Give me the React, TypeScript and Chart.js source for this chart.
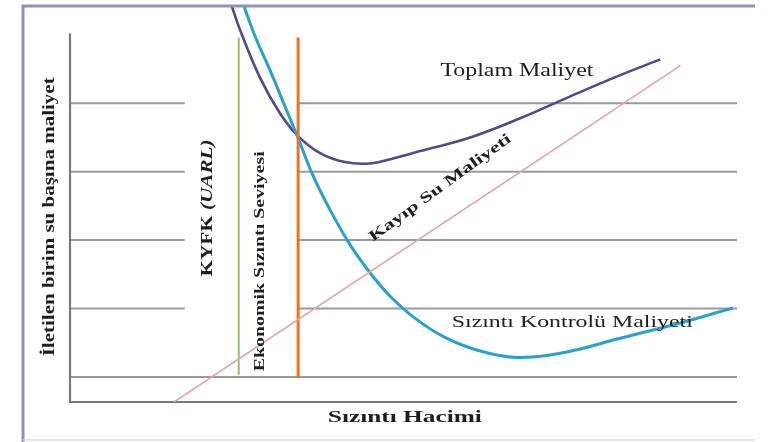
import React, { useEffect, useRef } from "react";
import { Chart, registerables } from "chart.js";

Chart.register(...registerables);

// ---- data (x: sızıntı hacmi, y: maliyet; arbitrary units) ----
const totalCostX = [2.37, 2.55, 2.85, 3.15, 3.42, 3.75, 4.12, 4.5, 4.87, 5.25, 6.0, 6.75, 7.5, 8.25, 8.85];
const totalCostY = [6.58, 6.07, 5.37, 4.85, 4.52, 4.27, 4.14, 4.12, 4.2, 4.3, 4.5, 4.78, 5.1, 5.41, 5.64];

const controlCostX = [2.55, 2.77, 3.0, 3.22, 3.42, 3.64, 3.9, 4.2, 4.5, 4.8, 5.17, 5.62, 6.15, 6.64, 7.12, 7.65, 8.14, 9.15, 9.94];
const controlCostY = [6.58, 5.99, 5.48, 4.96, 4.49, 3.95, 3.44, 2.93, 2.52, 2.18, 1.86, 1.58, 1.38, 1.29, 1.31, 1.41, 1.54, 1.79, 2.01];

const lostWaterX = [1.56, 9.15];
const lostWaterY = [0.635, 5.55];

const uarlX = [2.53, 2.53];
const uarlY = [5.96, 1.03];

const economicX = [3.42, 3.42];
const economicY = [5.96, 0.985];

const gridValues = [1, 2, 3, 4, 5];
const gridGapFrom = 1.72; // gridlines 2..5 are hidden between this x and the economic level line
const axisTop = 6.02;
const xMin = 0;
const xMax = 10;
const yMin = 0.635;
const yMax = 6.42;

const labelTotal = "Toplam Maliyet";
const labelLost = "Kayıp Su Maliyeti";
const labelControl = "Sızıntı Kontrolü Maliyeti";
const labelUarlA = "KYFK ";
const labelUarlB = "(UARL)";
const labelEconomic = "Ekonomik Sızıntı Seviyesi";
const titleY = "İletilen birim su başına maliyet";
const titleX = "Sızıntı Hacimi";

const SERIF = '"Liberation Serif", "DejaVu Serif", serif';

const pts = (xs: number[], ys: number[]) => xs.map((x, i) => ({ x, y: ys[i] }));

type Part = { text: string; font: string };

function drawLabel(
  ctx: CanvasRenderingContext2D,
  parts: Part[],
  cx: number,
  cy: number,
  width: number,
  rot: number,
  color: string
) {
  ctx.save();
  ctx.translate(cx, cy);
  ctx.rotate(rot);
  let total = 0;
  parts.forEach((p) => {
    ctx.font = p.font;
    total += ctx.measureText(p.text).width;
  });
  ctx.scale(width / total, 1);
  ctx.textAlign = "left";
  ctx.textBaseline = "middle";
  ctx.fillStyle = color;
  let x = -total / 2;
  parts.forEach((p) => {
    ctx.font = p.font;
    ctx.fillText(p.text, x, 0);
    x += ctx.measureText(p.text).width;
  });
  ctx.restore();
}

const decorPlugin = {
  id: "decor",
  beforeDatasetsDraw(chart: any) {
    const ctx: CanvasRenderingContext2D = chart.ctx;
    const xs = chart.scales.x;
    const ys = chart.scales.y;
    const X = (v: number) => xs.getPixelForValue(v);
    const Y = (v: number) => ys.getPixelForValue(v);
    ctx.save();
    // gridlines
    ctx.strokeStyle = "#9a9a9a";
    ctx.lineWidth = 2;
    gridValues.forEach((v, i) => {
      const y = Y(v);
      ctx.beginPath();
      if (i === 0) {
        ctx.moveTo(X(xMin), y);
        ctx.lineTo(X(xMax), y);
      } else {
        ctx.moveTo(X(xMin), y);
        ctx.lineTo(X(gridGapFrom), y);
        ctx.moveTo(X(economicX[0]), y);
        ctx.lineTo(X(xMax), y);
      }
      ctx.stroke();
    });
    // axes
    ctx.strokeStyle = "#7a7a7a";
    ctx.lineWidth = 2.2;
    ctx.beginPath();
    ctx.moveTo(X(xMin), Y(axisTop));
    ctx.lineTo(X(xMin), Y(yMin));
    ctx.lineTo(X(xMax), Y(yMin));
    ctx.stroke();
    ctx.restore();
  },
  afterDraw(chart: any) {
    const ctx: CanvasRenderingContext2D = chart.ctx;
    const xs = chart.scales.x;
    const ys = chart.scales.y;
    const X = (v: number) => xs.getPixelForValue(v);
    const Y = (v: number) => ys.getPixelForValue(v);
    const ink = "#1e1e1e";

    drawLabel(ctx, [{ text: labelTotal, font: `18px ${SERIF}` }], X(6.7), Y(5.47), 153, 0, ink);
    drawLabel(ctx, [{ text: labelLost, font: `bold 15px ${SERIF}` }], X(5.55), Y(3.76), 172, (-36 * Math.PI) / 180, ink);
    drawLabel(ctx, [{ text: labelControl, font: `17px ${SERIF}` }], X(7.53), Y(1.79), 241, 0, ink);
    drawLabel(
      ctx,
      [
        { text: labelUarlA, font: `bold 17px ${SERIF}` },
        { text: labelUarlB, font: `bold italic 17px ${SERIF}` },
      ],
      X(2.07),
      Y(3.47),
      137,
      -Math.PI / 2,
      ink
    );
    drawLabel(ctx, [{ text: labelEconomic, font: `bold 15px ${SERIF}` }], X(2.85), Y(2.69), 220, -Math.PI / 2, ink);
    drawLabel(ctx, [{ text: titleY, font: `bold 17px ${SERIF}` }], X(-0.3), Y(3.34), 279, -Math.PI / 2, ink);
    drawLabel(ctx, [{ text: titleX, font: `bold 17px ${SERIF}` }], X(5.02), Y(0.4), 154, 0, ink);

    // picture frame
    ctx.save();
    ctx.strokeStyle = "#8e94b6";
    ctx.lineWidth = 3;
    ctx.beginPath();
    ctx.moveTo(23, 442);
    ctx.lineTo(23, 6);
    ctx.lineTo(755, 6);
    ctx.stroke();
    ctx.strokeStyle = "#dcdce8";
    ctx.lineWidth = 1.5;
    ctx.beginPath();
    ctx.moveTo(23, 440);
    ctx.lineTo(755, 440);
    ctx.stroke();
    ctx.restore();
  },
};

export default function App() {
  const ref = useRef<HTMLCanvasElement | null>(null);

  useEffect(() => {
    document.body.style.margin = "0";
    if (!ref.current) return;
    const chart = new Chart(ref.current, {
      type: "line",
      data: {
        datasets: [
          {
            label: labelLost,
            data: pts(lostWaterX, lostWaterY),
            borderColor: "#e8a4a4",
            borderWidth: 1.6,
            pointRadius: 0,
            tension: 0,
          },
          {
            label: "KYFK (UARL)",
            data: pts(uarlX, uarlY),
            borderColor: "#9cc45c",
            borderWidth: 2,
            pointRadius: 0,
          },
          {
            label: labelEconomic,
            data: pts(economicX, economicY),
            borderColor: "#ea7425",
            borderWidth: 3,
            pointRadius: 0,
          },
          {
            label: labelControl,
            data: pts(controlCostX, controlCostY),
            borderColor: "#2a9fd2",
            borderWidth: 3,
            pointRadius: 0,
            tension: 0.4,
          },
          {
            label: labelTotal,
            data: pts(totalCostX, totalCostY),
            borderColor: "#4d4b8e",
            borderWidth: 2.6,
            pointRadius: 0,
            tension: 0.4,
          },
        ],
      },
      options: {
        animation: false,
        responsive: false,
        events: [],
        layout: { padding: { left: 70, right: 46, top: 6, bottom: 40 } },
        plugins: { legend: { display: false }, tooltip: { enabled: false } },
        scales: {
          x: { type: "linear", min: xMin, max: xMax, display: false },
          y: { type: "linear", min: yMin, max: yMax, display: false },
        },
      },
      plugins: [decorPlugin],
    } as any);
    return () => chart.destroy();
  }, []);

  return (
    <div style={{ position: "absolute", left: 0, top: 0, width: 783, height: 442, background: "#fff" }}>
      <canvas ref={ref} width={783} height={442} style={{ display: "block" }} />
    </div>
  );
}
